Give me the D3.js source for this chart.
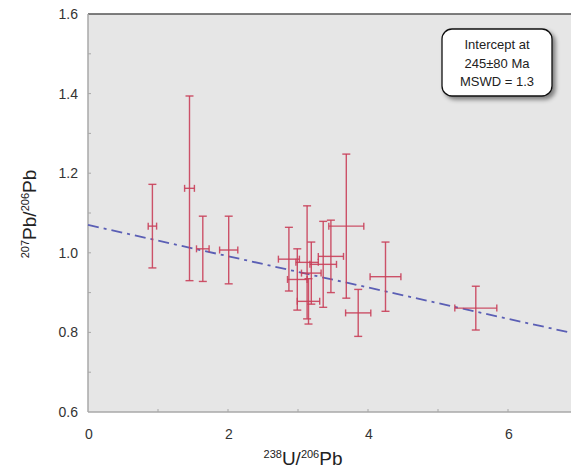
<!DOCTYPE html>
<html>
<head>
<meta charset="utf-8">
<script src="https://cdn.jsdelivr.net/npm/d3@7/dist/d3.min.js"></script>
<style>
  html, body { margin: 0; padding: 0; background: #fff; }
  svg { display: block; font-family: "Liberation Sans", Arial, sans-serif; }
</style>
</head>
<body>
<div id="chart"></div>
<script>
// 238U/206Pb and 207Pb/206Pb with their 2-sigma errors
const ratioU     = [0.92, 1.45, 1.64, 2.01, 2.87, 2.99, 3.13, 3.15, 3.19, 3.36, 3.47, 3.69, 3.86, 4.25, 5.54];
const ratioUErr  = [0.06, 0.07, 0.09, 0.13, 0.15, 0.14, 0.16, 0.16, 0.14, 0.19, 0.18, 0.25, 0.18, 0.22, 0.30];
const ratioPb    = [1.067, 1.162, 1.010, 1.007, 0.984, 0.933, 0.976, 0.878, 0.949, 0.971, 0.991, 1.067, 0.849, 0.940, 0.861];
const ratioPbErr = [0.105, 0.232, 0.082, 0.085, 0.080, 0.077, 0.142, 0.057, 0.078, 0.108, 0.091, 0.181, 0.059, 0.087, 0.055];

// regression line ends
const fitX = [0, 7];
const fitY = [1.070, 0.795];

const xMajor = [0, 2, 4, 6];
const xMinor = [1, 3, 5];
const yMajor = [0.6, 0.8, 1.0, 1.2, 1.4, 1.6];
const yMinor = [0.7, 0.9, 1.1, 1.3, 1.5];

const boxLines = ['Intercept at', '245\u00B180 Ma', 'MSWD = 1.3'];

const width = 571, height = 469;
const margin = { left: 88, top: 14, right: -7, bottom: 57 };

const svg = d3.select('#chart').append('svg')
  .attr('width', width)
  .attr('height', height);

const x = d3.scaleLinear().domain([0, 7]).range([margin.left, width - margin.right]);
const y = d3.scaleLinear().domain([0.6, 1.6]).range([height - margin.bottom, margin.top]);

// plot background
svg.append('rect')
  .attr('x', x(0)).attr('y', y(1.6))
  .attr('width', x(7) - x(0)).attr('height', y(0.6) - y(1.6))
  .attr('fill', '#e6e6e6');

// axis lines
svg.append('line')
  .attr('x1', x(0)).attr('x2', width).attr('y1', y(1.6)).attr('y2', y(1.6))
  .attr('stroke', '#555').attr('stroke-width', 1.5);
svg.append('line')
  .attr('x1', x(0)).attr('x2', x(0)).attr('y1', y(1.6)).attr('y2', y(0.6))
  .attr('stroke', '#a8a8a8').attr('stroke-width', 1.5);
svg.append('line')
  .attr('x1', x(0)).attr('x2', width).attr('y1', y(0.6)).attr('y2', y(0.6))
  .attr('stroke', '#a8a8a8').attr('stroke-width', 1.5);

// ticks (pointing inward)
const tickColor = '#a8a8a8';
svg.selectAll('.ytick').data(yMajor.concat(yMinor).filter(d => d > 0.6 && d < 1.6))
  .enter().append('line')
  .attr('x1', x(0)).attr('x2', x(0) + 3)
  .attr('y1', d => y(d)).attr('y2', d => y(d))
  .attr('stroke', tickColor).attr('stroke-width', 1);
svg.selectAll('.xtick').data(xMajor.concat(xMinor).filter(d => d > 0))
  .enter().append('line')
  .attr('x1', d => x(d)).attr('x2', d => x(d))
  .attr('y1', y(0.6)).attr('y2', y(0.6) - 3)
  .attr('stroke', tickColor).attr('stroke-width', 1);

// tick labels
svg.selectAll('.ylab').data(yMajor).enter().append('text')
  .attr('x', x(0) - 10)
  .attr('y', d => y(d) + 5)
  .attr('text-anchor', 'end')
  .attr('font-size', '14px')
  .attr('fill', '#333')
  .text(d => d3.format('.1f')(d));

svg.selectAll('.xlab').data(xMajor).enter().append('text')
  .attr('x', d => x(d) + 1)
  .attr('y', y(0.6) + 27)
  .attr('text-anchor', 'middle')
  .attr('font-size', '14px')
  .attr('fill', '#333')
  .text(d => d);

// axis titles
const xTitle = svg.append('text')
  .attr('x', 303).attr('y', 465)
  .attr('text-anchor', 'middle')
  .attr('font-size', '19px')
  .attr('fill', '#222');
xTitle.append('tspan').attr('font-size', '11px').attr('dy', -7).text('238');
xTitle.append('tspan').attr('dy', 7).text('U/');
xTitle.append('tspan').attr('font-size', '11px').attr('dy', -7).text('206');
xTitle.append('tspan').attr('dy', 7).text('Pb');

const yTitle = svg.append('text')
  .attr('transform', 'translate(36,214) rotate(-90)')
  .attr('text-anchor', 'middle')
  .attr('font-size', '19px')
  .attr('fill', '#222');
yTitle.append('tspan').attr('font-size', '11px').attr('dy', -7).text('207');
yTitle.append('tspan').attr('dy', 7).text('Pb/');
yTitle.append('tspan').attr('font-size', '11px').attr('dy', -7).text('206');
yTitle.append('tspan').attr('dy', 7).text('Pb');

// regression line
const plot = svg.append('g');
plot.append('line')
  .attr('x1', x(fitX[0])).attr('y1', y(fitY[0]))
  .attr('x2', x(fitX[1])).attr('y2', y(fitY[1]))
  .attr('stroke', '#5b5fb5')
  .attr('stroke-width', 1.8)
  .attr('stroke-dasharray', '11,5,3,5');

// error crosses
const barColor = '#c9405a';
const capV = 4, capH = 3.5;
const crosses = plot.selectAll('.cross').data(ratioU.map((d, i) => i))
  .enter().append('g')
  .attr('stroke', barColor)
  .attr('stroke-width', 1.4)
  .attr('stroke-opacity', 0.9);

crosses.append('line')
  .attr('x1', i => x(ratioU[i])).attr('x2', i => x(ratioU[i]))
  .attr('y1', i => y(ratioPb[i] + ratioPbErr[i])).attr('y2', i => y(ratioPb[i] - ratioPbErr[i]));
crosses.append('line')
  .attr('x1', i => x(ratioU[i]) - capV).attr('x2', i => x(ratioU[i]) + capV)
  .attr('y1', i => y(ratioPb[i] + ratioPbErr[i])).attr('y2', i => y(ratioPb[i] + ratioPbErr[i]));
crosses.append('line')
  .attr('x1', i => x(ratioU[i]) - capV).attr('x2', i => x(ratioU[i]) + capV)
  .attr('y1', i => y(ratioPb[i] - ratioPbErr[i])).attr('y2', i => y(ratioPb[i] - ratioPbErr[i]));
crosses.append('line')
  .attr('x1', i => x(ratioU[i] - ratioUErr[i])).attr('x2', i => x(ratioU[i] + ratioUErr[i]))
  .attr('y1', i => y(ratioPb[i])).attr('y2', i => y(ratioPb[i]));
crosses.append('line')
  .attr('x1', i => x(ratioU[i] - ratioUErr[i])).attr('x2', i => x(ratioU[i] - ratioUErr[i]))
  .attr('y1', i => y(ratioPb[i]) - capH).attr('y2', i => y(ratioPb[i]) + capH);
crosses.append('line')
  .attr('x1', i => x(ratioU[i] + ratioUErr[i])).attr('x2', i => x(ratioU[i] + ratioUErr[i]))
  .attr('y1', i => y(ratioPb[i]) - capH).attr('y2', i => y(ratioPb[i]) + capH);

// result box with shadow
const defs = svg.append('defs');
const shadow = defs.append('filter').attr('id', 'shadow')
  .attr('x', '-20%').attr('y', '-20%').attr('width', '150%').attr('height', '150%');
shadow.append('feDropShadow')
  .attr('dx', 3).attr('dy', 3).attr('stdDeviation', 2)
  .attr('flood-color', '#000').attr('flood-opacity', 0.45);

svg.append('rect')
  .attr('x', 442).attr('y', 29)
  .attr('width', 110).attr('height', 67)
  .attr('rx', 10).attr('ry', 10)
  .attr('fill', '#fff')
  .attr('stroke', '#111')
  .attr('stroke-width', 1.3)
  .attr('filter', 'url(#shadow)');

svg.selectAll('.boxline').data(boxLines).enter().append('text')
  .attr('x', 497)
  .attr('y', (d, i) => 49 + i * 18.5)
  .attr('text-anchor', 'middle')
  .attr('font-size', '13px')
  .attr('fill', '#222')
  .text(d => d);
</script>
</body>
</html>
